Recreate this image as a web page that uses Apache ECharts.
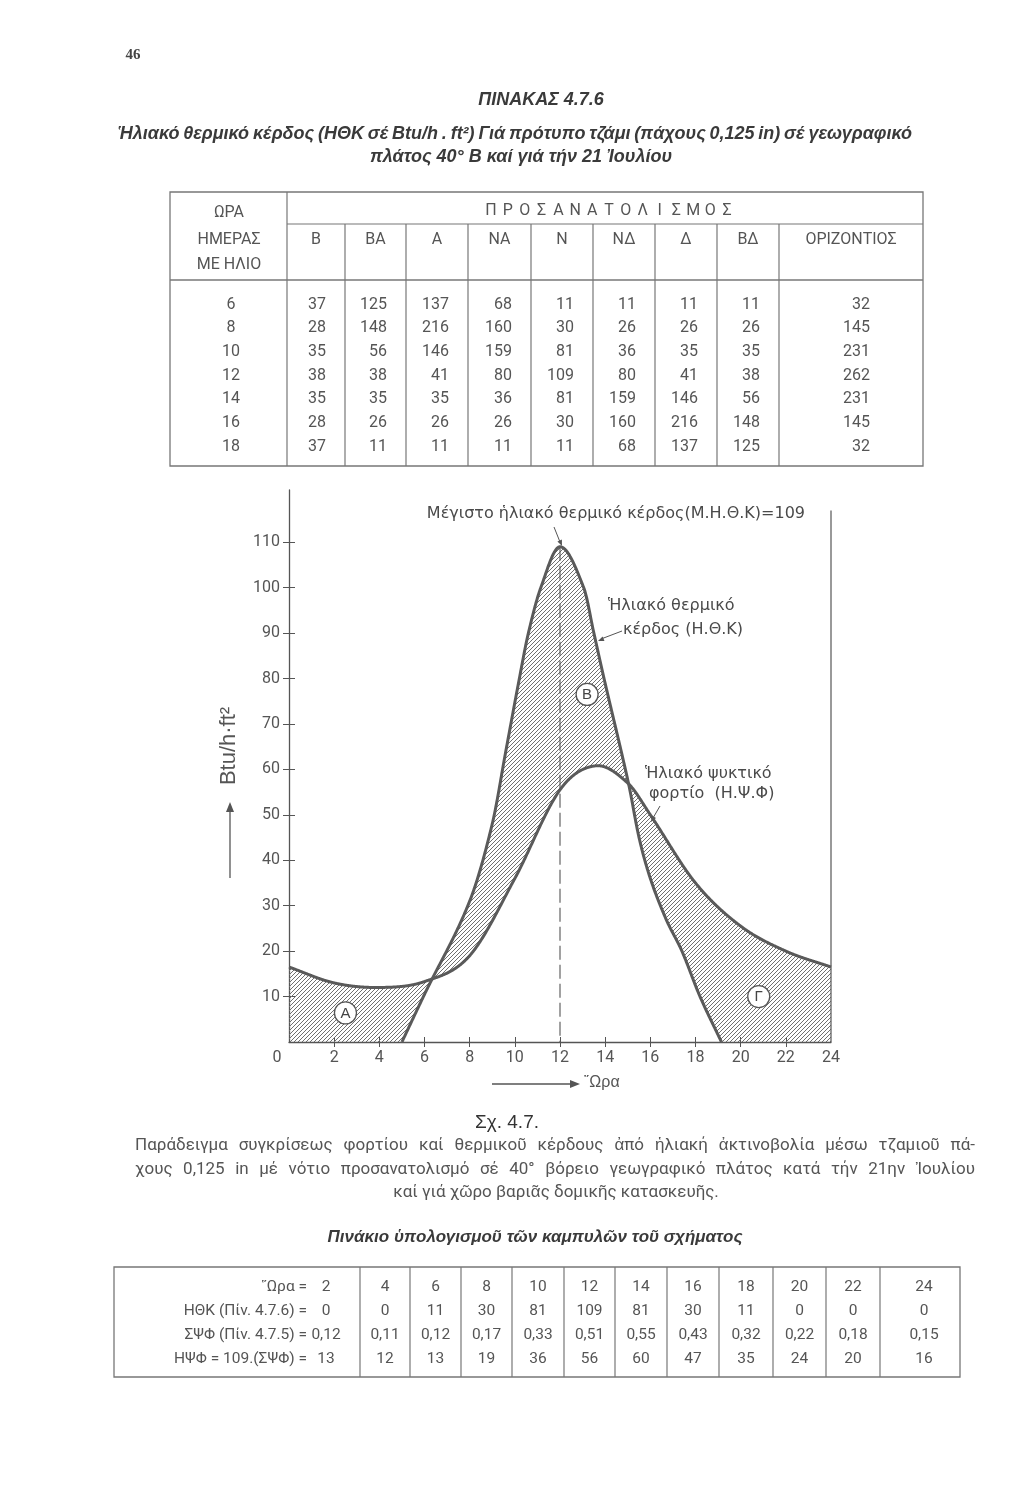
<!DOCTYPE html>
<html><head><meta charset="utf-8">
<script src="https://cdn.jsdelivr.net/npm/echarts@6/dist/echarts.min.js"></script>
<style>html,body{margin:0;padding:0;background:#fff}#c{width:1010px;height:1500px}</style>
</head><body><div id="c"></div>
<script>
// ================= DATA =================
// Top table (ΠΙΝΑΚΑΣ 4.7.6)
const topHours = [6, 8, 10, 12, 14, 16, 18];
const orientTitle = 'ΠΡΟΣΑΝΑΤΟΛΙΣΜΟΣ';
const orientHeaders = ['Β', 'ΒΑ', 'Α', 'ΝΑ', 'Ν', 'ΝΔ', 'Δ', 'ΒΔ', 'ΟΡΙΖΟΝΤΙΟΣ'];
const gainB   = [37, 28, 35, 38, 35, 28, 37];
const gainBA  = [125, 148, 56, 38, 35, 26, 11];
const gainA   = [137, 216, 146, 41, 35, 26, 11];
const gainNA  = [68, 160, 159, 80, 36, 26, 11];
const gainN   = [11, 30, 81, 109, 81, 30, 11];
const gainND  = [11, 26, 36, 80, 159, 160, 68];
const gainD   = [11, 26, 35, 41, 146, 216, 137];
const gainBD  = [11, 26, 35, 38, 56, 148, 125];
const gainHor = [32, 145, 231, 262, 231, 145, 32];

// Bottom table (Πινάκιο υπολογισμού)
const calcHours = [2, 4, 6, 8, 10, 12, 14, 16, 18, 20, 22, 24];
const calcHTK   = [0, 0, 11, 30, 81, 109, 81, 30, 11, 0, 0, 0];
const calcSPF   = ['0,12', '0,11', '0,12', '0,17', '0,33', '0,51', '0,55', '0,43', '0,32', '0,22', '0,18', '0,15'];
const calcHPF   = [13, 12, 13, 19, 36, 56, 60, 47, 35, 24, 20, 16];
const calcRowLabels = ['῞Ωρα =', 'ΗΘΚ (Πίν. 4.7.6) =', 'ΣΨΦ (Πίν. 4.7.5) =', 'ΗΨΦ = 109.(ΣΨΦ) ='];

// Curves of the figure
const gainCurveX = [5, 6, 8, 9, 9.6, 10.2, 10.6, 11.15, 12, 13.05, 13.5, 13.95, 15.03, 15.5, 16, 16.7, 17.4, 18.2, 19.15];
const gainCurveY = [0, 10.5, 31, 48, 64, 80, 90, 100, 109, 100, 90, 80, 57, 45, 36, 27, 20, 10, 0];
const loadCurveX = [0, 2, 4, 6, 8, 10, 12, 13.6, 15, 16, 18, 20, 22, 24];
const loadCurveY = [16.5, 13, 12, 13.3, 19, 36, 55.5, 60.8, 57, 50, 35, 25.5, 20, 16.5];
const peakHour = 12, peakValue = 109;
const frameTop = 117;
const regionLabels = [['Α', 2.5, 6.4], ['Β', 13.2, 76.5], ['Γ', 20.8, 10]];

// Axis ticks
const xTickLabels = [0, 2, 4, 6, 8, 10, 12, 14, 16, 18, 20, 22, 24];
const xTickMarks = [2, 4, 6, 8, 10, 12, 14, 16, 18, 20, 22];
const yTickLabels = [10, 20, 30, 40, 50, 60, 70, 80, 90, 100, 110];

// ================= HELPERS =================
const FF = "Roboto, 'Liberation Sans', 'DejaVu Sans', sans-serif";
const FN = "'Liberation Sans Narrow', 'Liberation Sans', 'DejaVu Sans', sans-serif";
const FL = "'Liberation Sans', 'DejaVu Sans', sans-serif";
const FD = "'DejaVu Sans', 'Liberation Sans', sans-serif";
const TXT = '#555';
const mc = document.createElement('canvas').getContext('2d');
function measure(t, font) { mc.font = font; return mc.measureText(t).width; }
function T(text, x, y, o) {
  o = o || {};
  const al = o.align || 'center';
  return { type: 'text', silent: true, x: x, y: y, rotation: o.rotation || 0, z: 10,
    style: { text: text, x: 0, y: 0, font: o.font || ('16px ' + FF), fill: o.fill || TXT,
      align: al, textAlign: al, verticalAlign: 'middle', textVerticalAlign: 'middle' } };
}
function L(x1, y1, x2, y2, o) {
  o = o || {};
  return { type: 'line', silent: true, z: 5, shape: { x1: x1, y1: y1, x2: x2, y2: y2 },
    style: { stroke: o.stroke || '#666', lineWidth: o.w || 1.2, lineDash: o.dash || null } };
}
function arrowHead(x1, y1, x2, y2, size, col) {
  const a = Math.atan2(y2 - y1, x2 - x1), s = size || 7, wdt = s * 0.4;
  const bx = x2 - s * Math.cos(a), by = y2 - s * Math.sin(a);
  return { type: 'polygon', silent: true, z: 6, shape: { points: [[x2, y2],
    [bx + wdt * Math.sin(a), by - wdt * Math.cos(a)], [bx - wdt * Math.sin(a), by + wdt * Math.cos(a)]] },
    style: { fill: col || '#555' } };
}
function justify(text, x1, x2, y, font, fill) {
  const words = text.split(' ');
  const ws = words.map(w => measure(w, font));
  const tot = ws.reduce((a, b) => a + b, 0);
  const gap = (x2 - x1 - tot) / (words.length - 1);
  let x = x1;
  return words.map((w, i) => { const e = T(w, x, y, { font: font, fill: fill, align: 'left' }); x += ws[i] + gap; return e; });
}
function makeSpline(xs, ys) {
  const n = xs.length, m = [];
  for (let i = 0; i < n; i++) {
    if (i === 0) m.push((ys[1] - ys[0]) / (xs[1] - xs[0]));
    else if (i === n - 1) m.push((ys[n - 1] - ys[n - 2]) / (xs[n - 1] - xs[n - 2]));
    else m.push((ys[i + 1] - ys[i - 1]) / (xs[i + 1] - xs[i - 1]));
  }
  return function (x) {
    if (x <= xs[0]) return ys[0];
    if (x >= xs[n - 1]) return ys[n - 1];
    let i = 0; while (x > xs[i + 1]) i++;
    const h = xs[i + 1] - xs[i], t = (x - xs[i]) / h, t2 = t * t, t3 = t2 * t;
    return (2 * t3 - 3 * t2 + 1) * ys[i] + (t3 - 2 * t2 + t) * h * m[i] + (-2 * t3 + 3 * t2) * ys[i + 1] + (t3 - t2) * h * m[i + 1];
  };
}

// hatch pattern
const hc = document.createElement('canvas'); hc.width = 4; hc.height = 4;
(function () { const g = hc.getContext('2d'); g.strokeStyle = '#707070'; g.lineWidth = 1;
  g.beginPath(); g.moveTo(-1, 5); g.lineTo(5, -1); g.moveTo(-1, 1); g.lineTo(1, -1); g.moveTo(3, 5); g.lineTo(5, 3); g.stroke(); })();
const hatch = { image: hc, repeat: 'repeat' };

// ================= PAGE GRAPHICS =================
const els = [];
els.push(T('46', 133, 55, { font: "bold 15px 'Liberation Serif', serif", fill: '#444' }));
els.push(T('ΠΙΝΑΚΑΣ 4.7.6', 541, 100, { font: 'italic bold 18px ' + FN, fill: '#3a3a3a' }));
const hFont = 'italic bold 18px ' + FN;
justify('Ἡλιακό θερμικό κέρδος (ΗΘΚ σέ Btu/h . ft²) Γιά πρότυπο τζάμι (πάχους 0,125 in) σέ γεωγραφικό', 118, 912, 134, hFont, '#3a3a3a').forEach(e => els.push(e));
els.push(T('πλάτος 40° Β καί γιά τήν 21 Ἰουλίου', 521, 157, { font: hFont, fill: '#3a3a3a' }));

// top table
const tL = 170, tR = 923, tT = 192, tB = 466, tMid = 224, tHead = 280;
const colB = [287, 345, 406, 468, 531, 593, 655, 717, 779, 923];
const tc = '#777';
els.push({ type: 'rect', silent: true, shape: { x: tL, y: tT, width: tR - tL, height: tB - tT }, style: { fill: null, stroke: tc, lineWidth: 1.3 } });
els.push(L(colB[0], tMid, tR, tMid, { stroke: tc }));
els.push(L(tL, tHead, tR, tHead, { stroke: tc, w: 1.5 }));
els.push(L(colB[0], tT, colB[0], tB, { stroke: tc }));
for (let i = 1; i < colB.length - 1; i++) els.push(L(colB[i], tMid, colB[i], tB, { stroke: tc }));
const tf = '16px ' + FF;
els.push(T('ΩΡΑ', 229, 213, { font: tf }));
els.push(T('ΗΜΕΡΑΣ', 229, 240, { font: tf }));
els.push(T('ΜΕ ΗΛΙΟ', 229, 265, { font: tf }));
orientTitle.split('').forEach((ch, i, arr) => els.push(T(ch, 491 + i * (236 / (arr.length - 1)), 211, { font: tf })));
orientHeaders.forEach((h, i) => els.push(T(h, (colB[i] + colB[i + 1]) / 2, 240, { font: tf })));
const rowY = [305, 328, 352, 376, 399, 423, 447];
const cols = [gainB, gainBA, gainA, gainNA, gainN, gainND, gainD, gainBD, gainHor];
topHours.forEach((h, r) => {
  els.push(T(String(h), 231, rowY[r], { font: tf }));
  cols.forEach((c, i) => {
    const right = i === cols.length - 1 ? 870 : colB[i + 1] - 19;
    els.push(T(String(c[r]), right, rowY[r], { font: tf, align: 'right' }));
  });
});

// axis titles
els.push(T('Btu/h·ft²', 229, 746, { font: '22px ' + FL, fill: '#555', rotation: Math.PI / 2 }));
els.push(L(230, 878, 230, 812, { stroke: '#555', w: 1.3 }));
els.push(arrowHead(230, 878, 230, 802, 10, '#555'));
els.push(L(492, 1084, 570, 1084, { stroke: '#555', w: 1.3 }));
els.push(arrowHead(492, 1084, 580, 1084, 10, '#555'));
els.push(T('῞Ωρα', 584, 1083, { font: '16px ' + FL, align: 'left' }));

// curve annotations
const af = '16px ' + FD;
els.push(T('Μέγιστο ἡλιακό θερμικό κέρδος(Μ.Η.Θ.Κ)=109', 805, 514, { font: af, fill: '#4a4a4a', align: 'right' }));
els.push(L(554, 527, 560, 542, { stroke: '#555', w: 1 }));
els.push(arrowHead(554, 527, 562, 546, 6, '#555'));
els.push(T('Ἡλιακό θερμικό', 608, 606, { font: af, fill: '#4a4a4a', align: 'left' }));
els.push(T('κέρδος (Η.Θ.Κ)', 623, 630, { font: af, fill: '#4a4a4a', align: 'left' }));
els.push(L(622, 631, 601, 639, { stroke: '#555', w: 1 }));
els.push(arrowHead(622, 631, 598, 641, 6, '#555'));
els.push(T('Ἡλιακό ψυκτικό', 645, 774, { font: af, fill: '#4a4a4a', align: 'left' }));
els.push(T('φορτίο  (Η.Ψ.Φ)', 649, 794, { font: af, fill: '#4a4a4a', align: 'left' }));
els.push(L(660, 806, 653, 818, { stroke: '#555', w: 1 }));
els.push(arrowHead(660, 806, 651, 822, 6, '#555'));

// caption
els.push(T('Σχ. 4.7.', 507, 1123, { font: '19px ' + FN, fill: '#333' }));
const cf = '17px ' + FF;
justify('Παράδειγμα συγκρίσεως φορτίου καί θερμικοῦ κέρδους ἀπό ἡλιακή ἀκτινοβολία μέσω τζαμιοῦ πά-', 135, 975, 1146, cf, TXT).forEach(e => els.push(e));
justify('χους 0,125 in μέ νότιο προσανατολισμό σέ 40° βόρειο γεωγραφικό πλάτος κατά τήν 21ην Ἰουλίου', 135, 975, 1170, cf, TXT).forEach(e => els.push(e));
els.push(T('καί γιά χῶρο βαριᾶς δομικῆς κατασκευῆς.', 556, 1193, { font: cf }));
els.push(T('Πινάκιο ὑπολογισμοῦ τῶν καμπυλῶν τοῦ σχήματος', 535, 1237, { font: 'italic bold 17px ' + FN, fill: '#3a3a3a' }));

// bottom table
const bL = 114, bR = 960, bT = 1267, bB = 1377;
const bCol = [360, 410, 461, 512, 564, 615, 667, 719, 773, 826, 880];
els.push({ type: 'rect', silent: true, shape: { x: bL, y: bT, width: bR - bL, height: bB - bT }, style: { fill: null, stroke: tc, lineWidth: 1.3 } });
bCol.forEach(x => els.push(L(x, bT, x, bB, { stroke: tc })));
const bRowY = [1287, 1311, 1335, 1359];
const bf = '15.5px ' + FF;
calcRowLabels.forEach((t, r) => els.push(T(t, 307, bRowY[r], { font: bf, align: 'right' })));
const bCenters = [326].concat(bCol.slice(0, -1).map((x, i) => (x + bCol[i + 1]) / 2)).concat([924]);
const bRows = [calcHours, calcHTK, calcSPF, calcHPF];
bRows.forEach((row, r) => row.forEach((v, i) => els.push(T(String(v), bCenters[i], bRowY[r], { font: bf }))));

// ================= CHART =================
const chart = echarts.init(document.getElementById('c'), null, { renderer: 'canvas' });
const axisCol = '#555';
const lblStyle = { color: '#555', fontSize: 16, fontFamily: FF };
const option = {
  backgroundColor: '#fff',
  animation: false,
  grid: { left: 289, right: 179, top: 490, bottom: 458, outerBoundsMode: 'none' },
  xAxis: [
    { type: 'value', min: 0, max: 24, interval: 2,
      axisLine: { lineStyle: { color: axisCol, width: 1.3 } },
      axisTick: { length: 5, customValues: xTickMarks, lineStyle: { color: axisCol } },
      axisLabel: Object.assign({ customValues: xTickLabels, margin: 8,
        formatter: v => v === 0 ? '{z|0}' : String(v), rich: { z: { padding: [0, 24, 0, 0], color: '#555', fontSize: 16, fontFamily: FF } } }, lblStyle),
      splitLine: { show: false } },
    { type: 'value', min: 0, max: 24, interval: 2, position: 'bottom',
      axisLine: { show: true, lineStyle: { color: axisCol, opacity: 0 } }, axisLabel: { show: false },
      axisTick: { show: true, inside: true, length: 5, customValues: xTickMarks, lineStyle: { color: axisCol } },
      splitLine: { show: false } }
  ],
  yAxis: [
    { type: 'value', min: 0, max: 121.5, interval: 10,
      axisLine: { show: true, lineStyle: { color: axisCol, width: 1.3 } },
      axisTick: { show: true, length: 6, customValues: yTickLabels, lineStyle: { color: axisCol } },
      axisLabel: Object.assign({ customValues: yTickLabels, margin: 9, formatter: v => (v > 110 || v === 0) ? '' : String(v) }, lblStyle),
      splitLine: { show: false } },
    { type: 'value', min: 0, max: 121.5, interval: 10, position: 'left',
      axisLine: { show: true, lineStyle: { color: axisCol, opacity: 0 } }, axisLabel: { show: false },
      axisTick: { show: true, inside: true, length: 6, customValues: yTickLabels, lineStyle: { color: axisCol } },
      splitLine: { show: false } }
  ],
  graphic: { elements: els },
  series: [{
    type: 'custom', silent: true, xAxisIndex: 0, yAxisIndex: 0, clip: false,
    data: [[0, 0]],
    renderItem: function (params, api) {
      const th = makeSpline(gainCurveX, gainCurveY);
      const ps = makeSpline(loadCurveX, loadCurveY);
      const g0 = gainCurveX[0], g1 = gainCurveX[gainCurveX.length - 1];
      const theta = x => (x < g0 || x > g1) ? 0 : Math.max(0, th(x));
      const xmin = loadCurveX[0], xmax = loadCurveX[loadCurveX.length - 1];
      let xs = [];
      for (let i = 0; i <= 1200; i++) xs.push(xmin + (xmax - xmin) * i / 1200);
      xs = xs.concat(gainCurveX).sort((a, b) => a - b);
      const up = [], lo = [];
      xs.forEach(x => { const a = theta(x), b = ps(x); up.push(api.coord([x, Math.max(a, b)])); lo.push(api.coord([x, Math.min(a, b)])); });
      const poly = up.concat(lo.reverse());
      const gainPts = xs.filter(x => x >= g0 && x <= g1).map(x => api.coord([x, theta(x)]));
      const loadPts = xs.map(x => api.coord([x, ps(x)]));
      const pk = api.coord([peakHour, peakValue]), pk0 = api.coord([peakHour, 0]);
      const fr = api.coord([xmax, frameTop]), fr0 = api.coord([xmax, 0]);
      const children = [
        { type: 'polygon', shape: { points: poly }, style: { fill: hatch, stroke: null } },
        { type: 'line', shape: { x1: pk[0], y1: pk[1], x2: pk0[0], y2: pk0[1] }, style: { stroke: '#555', lineWidth: 1.1, lineDash: [14, 5] } },
        { type: 'line', shape: { x1: fr[0], y1: fr[1], x2: fr0[0], y2: fr0[1] }, style: { stroke: '#555', lineWidth: 1.2 } },
        { type: 'polyline', shape: { points: loadPts }, style: { stroke: '#5a5a5a', lineWidth: 3, fill: null, lineJoin: 'round' } },
        { type: 'polyline', shape: { points: gainPts }, style: { stroke: '#5a5a5a', lineWidth: 3, fill: null, lineJoin: 'round' } }
      ];
      regionLabels.forEach(r => {
        const p = api.coord([r[1], r[2]]);
        children.push({ type: 'circle', shape: { cx: p[0], cy: p[1], r: 11 }, style: { fill: '#fff', stroke: '#555', lineWidth: 1.3 } });
        children.push({ type: 'text', x: p[0], y: p[1] + 0.5, style: { text: r[0], x: 0, y: 0, font: '15px ' + FL, fill: '#444', align: 'center', verticalAlign: 'middle', textAlign: 'center', textVerticalAlign: 'middle' } });
      });
      return { type: 'group', children: children };
    }
  }]
};
chart.setOption(option);
</script>
</body></html>
